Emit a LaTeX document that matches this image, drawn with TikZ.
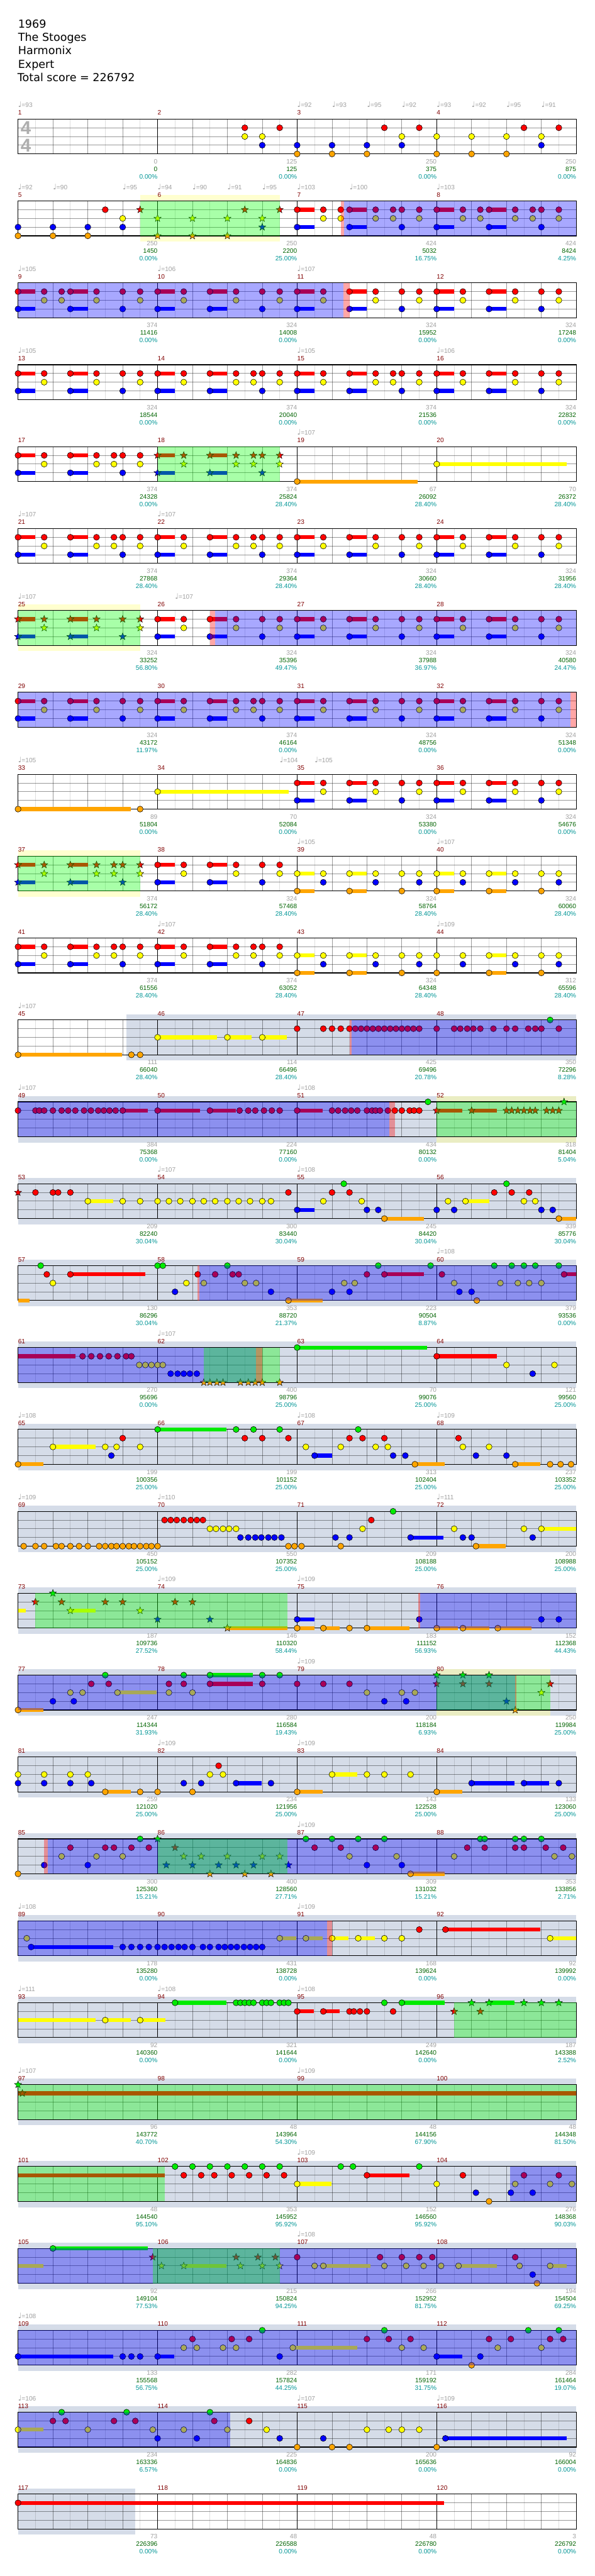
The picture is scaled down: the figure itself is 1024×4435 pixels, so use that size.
\documentclass[tikz,border=0pt]{standalone}
\usepackage{fontspec}
\setmainfont{DejaVu Sans}
\newfontfamily\lib{Liberation Sans}
\newfontfamily\libb{Liberation Sans Bold}
\newfontfamily\dvs{DejaVu Sans}
\usetikzlibrary{shapes.geometric}
\definecolor{gc}{RGB}{0,235,0}
\definecolor{rc}{RGB}{255,0,0}
\definecolor{yc}{RGB}{255,255,0}
\definecolor{bc}{RGB}{0,0,255}
\definecolor{oc}{RGB}{255,165,0}
\definecolor{greybg}{RGB}{213,220,232}
\definecolor{ylw}{RGB}{255,255,160}
\definecolor{mred}{RGB}{128,0,0}
\definecolor{sgrey}{RGB}{160,160,160}
\definecolor{sgreen}{RGB}{0,100,0}
\definecolor{scyan}{RGB}{0,150,150}
\definecolor{ovb}{RGB}{0,0,255}
\definecolor{ovg}{RGB}{0,255,0}
\definecolor{ovr}{RGB}{255,0,0}
\def\lyg{0}\def\lyr{15}\def\lyy{30}\def\lyb{45}\def\lyo{60}
\newcommand\ly[1]{\csname ly#1\endcsname}
\tikzset{
  rowat/.style={shift={(31,205+141*#1)},x=15.016pt},
  starn/.style={star,star points=5,star point ratio=2.4,minimum size=13pt,inner sep=0pt,draw=black,line width=0.5pt},
  mnum/.style={font=\lib\fontsize{11}{13}\selectfont,text=mred,anchor=base west,inner sep=0pt},
  sg/.style={font=\lib\fontsize{11}{13}\selectfont,text=sgrey,anchor=base east,inner sep=0pt},
  sgr/.style={font=\lib\fontsize{11}{13}\selectfont,text=sgreen,anchor=base east,inner sep=0pt},
  scy/.style={font=\lib\fontsize{11}{13}\selectfont,text=scyan,anchor=base east,inner sep=0pt},
  tempo/.style={font=\lib\fontsize{11}{13}\selectfont,text=sgrey,anchor=base west,inner sep=0pt},
  ttl/.style={font=\dvs\fontsize{19}{22}\selectfont,anchor=base west,inner sep=0pt},
  tsig/.style={font=\libb\fontsize{32}{32}\selectfont,text=sgrey!85,inner sep=0pt}
}
\newcommand\N[2]{\foreach \q in {#2}{\filldraw[fill=#1c,draw=black,line width=0.6pt] (\q,\ly{#1}) circle (5.2pt);}}
\newcommand\St[2]{\foreach \q in {#2}{\node[starn,fill=#1c] at (\q,\ly{#1}) {};}}
\newcommand\Su[3]{\fill[#1c] (#2,\ly{#1}-3.4) rectangle (#3,\ly{#1}+3.4);}
\newcommand\riff[5]{\Su{#2}{#1}{#1+2}\Su{#4}{#1}{#1+2}\Su{#2}{#1+6}{#1+8}\Su{#4}{#1+6}{#1+8}%
  \N{#4}{#1,#1+6,#1+12}\N{#2}{#1,#1+6,#1+12}\foreach \p in {#5}{\N{#2}{#1+\p}\N{#3}{#1+\p}}}
\newcommand\sriff[5]{\Su{#2}{#1}{#1+2}\Su{#4}{#1}{#1+2}\Su{#2}{#1+6}{#1+8}\Su{#4}{#1+6}{#1+8}%
  \St{#4}{#1,#1+6,#1+12}\St{#2}{#1,#1+6,#1+12}\foreach \p in {#5}{\St{#2}{#1+\p}\St{#3}{#1+\p}}}
\newcommand\wf{\fill[white] (0,0) rectangle (64,60);}
\newcommand\GR[2]{\fill[greybg] (#1,-10) rectangle (#2,70);}
\newcommand\YS[2]{\fill[ylw,opacity=0.5] (#1,-10) rectangle (#2,0);\fill[ylw,opacity=0.5] (#1,60) rectangle (#2,70);}
\newcommand\OB[2]{\fill[ovb,opacity=0.34] (#1,0) rectangle (#2,60);}
\newcommand\OG[2]{\fill[ovg,opacity=0.34] (#1,0) rectangle (#2,60);}
\newcommand\PK[2]{\fill[ovr,opacity=0.35] (#1,0) rectangle (#2,60);}
\newcommand\grid{%
  \foreach \i in {2,6,...,62}{\draw[black,opacity=0.13,line width=0.8pt] (\i,0) -- (\i,60);}
  \foreach \i in {4,8,12,20,24,28,36,40,44,52,56,60}{\draw[black,opacity=0.4,line width=0.8pt] (\i,0) -- (\i,60);}
  \foreach \i in {16,32,48}{\draw[black,line width=0.8pt] (\i,0) -- (\i,60);}
  \foreach \j in {15,30,45}{\draw[black,opacity=0.4,line width=1pt] (0,\j) -- (64,\j);}
  \draw[black,line width=1.2pt] (0,0) rectangle (64,60);}
\newcommand\mn[1]{\foreach \k in {0,1,2,3}{\node[mnum] at (16*\k,-7) {\the\numexpr#1+\k\relax};}}
\newcommand\scr[4]{\node[sg] at (16*#1+16,77) {#2};\node[sgr] at (16*#1+16,90) {#3};\node[scy] at (16*#1+16,103) {#4\%};}
\newcommand\tp[2]{\node[tempo] at (#1,-20) {{\dvs\fontsize{13}{13}\selectfont ♩}=#2};}
\begin{document}
\begin{tikzpicture}[x=1pt,y=-1pt]
\useasboundingbox (0,0) rectangle (1024,4435);
\fill[white] (0,0) rectangle (1024,4435);
\node[ttl] (t1) at (31,48) {1969};
\node[ttl] (t2) at (31,71) {The Stooges};
\node[ttl] (t3) at (31,94) {Harmonix};
\node[ttl] (t4) at (31,117) {Expert};
\node[ttl] (t5) at (30,140) {Total score = 226792};
% row 0
\begin{scope}[rowat=0]\wf\grid
\node[tsig] at (0.9,15.5) {4};\node[tsig] at (0.9,46) {4};
\N{r}{26,30,42,46,58,62}\N{y}{26,28,44,48,52,56,60}\N{b}{28,32,36,40,44,60}\N{o}{32,36,40,48,52,56}
\mn{1}\tp{0}{93}\tp{32}{92}\tp{36}{93}\tp{40}{95}\tp{44}{92}\tp{48}{93}\tp{52}{92}\tp{56}{95}\tp{60}{91}
\scr{0}{0}{0}{0.00}\scr{1}{125}{125}{0.00}\scr{2}{250}{375}{0.00}\scr{3}{250}{875}{0.00}
\end{scope}
% row 1
\begin{scope}[rowat=1]\wf\YS{14}{30}\grid
\N{b}{0,4,8,12}\N{o}{0,4,8}\N{r}{10}\N{y}{12}
\St{r}{14,26,30}\St{y}{16,20,24,28}\St{o}{16,20,24}\St{b}{28}
\riff{32}{r}{y}{b}{3,5,9,11,14}\riff{48}{r}{y}{b}{3,5,9,11,14}
\OG{14}{30}\PK{37}{37.35}\OB{37.35}{64}
\mn{5}\tp{0}{92}\tp{4}{90}\tp{12}{95}\tp{16}{94}\tp{20}{90}\tp{24}{91}\tp{28}{95}\tp{32}{103}\tp{38}{100}\tp{48}{103}
\scr{0}{250}{1450}{0.00}\scr{1}{250}{2200}{25.00}\scr{2}{424}{5032}{16.75}\scr{3}{424}{8424}{4.25}
\end{scope}
% row 2
\begin{scope}[rowat=2]\wf\grid
\riff{0}{r}{y}{b}{3,5,9,14}\riff{16}{r}{y}{b}{3,9,14}\riff{32}{r}{y}{b}{3,9,14}\riff{48}{r}{y}{b}{3,9,14}
\OB{0}{37.3}\PK{37.3}{38}
\mn{9}\tp{0}{105}\tp{16}{106}\tp{32}{107}
\scr{0}{374}{11416}{0.00}\scr{1}{324}{14008}{0.00}\scr{2}{324}{15952}{0.00}\scr{3}{324}{17248}{0.00}
\end{scope}
% row 3
\begin{scope}[rowat=3]\wf\grid
\riff{0}{r}{y}{b}{3,9,14}\riff{16}{r}{y}{b}{3,9,11,14}\riff{32}{r}{y}{b}{3,9,11,14}\riff{48}{r}{y}{b}{3,9,14}
\mn{13}\tp{0}{105}\tp{32}{105}\tp{48}{106}
\scr{0}{324}{18544}{0.00}\scr{1}{374}{20040}{0.00}\scr{2}{374}{21536}{0.00}\scr{3}{324}{22832}{0.00}
\end{scope}
% row 4
\begin{scope}[rowat=4]\wf\grid
\riff{0}{r}{y}{b}{3,9,11,14}\sriff{16}{r}{y}{b}{3,9,11,14}
\Su{o}{32}{45.8}\N{o}{32}\Su{y}{48}{62.9}\N{y}{48}
\OG{16}{30}
\mn{17}\tp{32}{107}
\scr{0}{374}{24328}{0.00}\scr{1}{374}{25824}{28.40}\scr{2}{67}{26092}{28.40}\scr{3}{70}{26372}{28.40}
\end{scope}
% row 5
\begin{scope}[rowat=5]\wf\grid
\riff{0}{r}{y}{b}{3,9,11,14}\riff{16}{r}{y}{b}{3,9,11,14}\riff{32}{r}{y}{b}{3,9,14}\riff{48}{r}{y}{b}{3,9,14}
\mn{21}\tp{0}{107}\tp{16}{107}
\scr{0}{374}{27868}{28.40}\scr{1}{374}{29364}{28.40}\scr{2}{324}{30660}{28.40}\scr{3}{324}{31956}{28.40}
\end{scope}
% row 6
\begin{scope}[rowat=6]\wf\YS{0}{14}\grid
\sriff{0}{r}{y}{b}{3,9,14}\riff{16}{r}{y}{b}{3,9,14}\riff{32}{r}{y}{b}{3,9,14}\riff{48}{r}{y}{b}{3,9,14}
\OG{0}{14}\PK{22}{22.6}\OB{22.6}{64}
\mn{25}\tp{0}{107}\tp{18}{107}
\scr{0}{324}{33252}{56.80}\scr{1}{324}{35396}{49.47}\scr{2}{324}{37988}{36.97}\scr{3}{324}{40580}{24.47}
\end{scope}
% row 7
\begin{scope}[rowat=7]\wf\grid
\riff{0}{r}{y}{b}{3,9,14}\riff{16}{r}{y}{b}{3,9,11,14}\riff{32}{r}{y}{b}{3,9,14}\riff{48}{r}{y}{b}{3,9,14}
\OB{0}{63.3}\PK{63.3}{64}
\mn{29}
\scr{0}{324}{43172}{11.97}\scr{1}{374}{46164}{0.00}\scr{2}{324}{48756}{0.00}\scr{3}{324}{51348}{0.00}
\end{scope}
% row 8
\begin{scope}[rowat=8]\wf\grid
\Su{o}{0}{12.9}\N{o}{0,14}\Su{y}{16}{31}\N{y}{16}
\riff{32}{r}{y}{b}{3,9,14}\riff{48}{r}{y}{b}{3,9,14}
\mn{33}\tp{0}{105}\tp{30}{104}\tp{34}{105}
\scr{0}{89}{51804}{0.00}\scr{1}{70}{52084}{0.00}\scr{2}{324}{53380}{0.00}\scr{3}{324}{54676}{0.00}
\end{scope}
% row 9
\begin{scope}[rowat=9]\wf\YS{0}{14}\grid
\sriff{0}{r}{y}{b}{3,9,11,14}\riff{16}{r}{y}{b}{3,9,14}\riff{32}{y}{b}{o}{3,9,14}\riff{48}{y}{b}{o}{3,9,14}
\OG{0}{14}
\mn{37}\tp{32}{105}\tp{48}{107}
\scr{0}{374}{56172}{28.40}\scr{1}{324}{57468}{28.40}\scr{2}{324}{58764}{28.40}\scr{3}{324}{60060}{28.40}
\end{scope}
% row 10
\begin{scope}[rowat=10]\wf\grid
\riff{0}{r}{y}{b}{3,9,11,14}\riff{16}{r}{y}{b}{3,9,11,14}\riff{32}{y}{b}{o}{3,9,14}
\Su{y}{54}{56}\Su{o}{54}{56}\N{o}{48,54,60}\N{y}{48,51,54,57,60,62}\N{b}{51,57,62}
\mn{41}\tp{16}{107}\tp{48}{109}
\scr{0}{374}{61556}{28.40}\scr{1}{374}{63052}{28.40}\scr{2}{324}{64348}{28.40}\scr{3}{312}{65596}{28.40}
\end{scope}
% row 11
\begin{scope}[rowat=11]\wf\GR{12.4}{64}\grid
\Su{o}{0}{11.9}\N{o}{0,13,14}
\Su{y}{16}{22.8}\Su{y}{24}{26.8}\Su{y}{28}{30.8}\N{y}{16,24,28}
\N{r}{32,35,36,37,38,38.67,39.33,40,40.67,41.33,42,42.67,43.33,44,44.67,45.33,46,48,50,50.7,51.5,52.2,53,54.5,56,57,58.5,59.3,60,62}
\N{g}{61}
\PK{38}{38.25}\OB{38.25}{64}
\mn{45}\tp{0}{107}
\scr{0}{111}{66040}{28.40}\scr{1}{114}{66496}{28.40}\scr{2}{425}{69496}{20.78}\scr{3}{350}{72296}{8.28}
\end{scope}
% row 12
\begin{scope}[rowat=12]\wf\GR{0}{64}\YS{48}{64}\grid
\Su{r}{12}{14.9}\Su{r}{16}{20.9}\Su{r}{22}{25}\Su{r}{32}{34.9}
\N{r}{0,2,2.44,3,4,5,5.75,6.57,7.57,8.36,9.19,9.84,10.49,11.19,12,16,22,25.4,26.4,27.2,28.2,29.1,30,32,36,36.7,37.5,38.2,38.9,40,40.6,41,41.5,42.4,43.2,44,44.9,45.4,46}
\N{g}{47}
\Su{r}{48}{50.9}\Su{r}{52}{54.9}
\St{r}{48,52,56,56.6,57.3,58,58.7,59.3,60.6,61.3,62}\St{g}{62.6}
\OB{0}{42.6}\PK{42.6}{43.2}\OG{48}{64}
\mn{49}\tp{0}{107}\tp{32}{108}
\scr{0}{384}{75368}{0.00}\scr{1}{224}{77160}{0.00}\scr{2}{434}{80132}{0.00}\scr{3}{318}{81404}{5.04}
\end{scope}
% row 13
\begin{scope}[rowat=13]\wf\GR{0}{64}\grid
\St{r}{0}
\Su{y}{8}{10.9}\Su{b}{32}{34}\Su{o}{42}{46.5}\Su{y}{51.3}{54}\Su{o}{62}{64}
\N{r}{2,4,4.6,6,31,36,38,54.6,56.6,58.6}
\N{y}{8,12,14,16,17.3,18.6,20,21.3,22.6,24,25.3,26.6,28,29,35,39.4,49.3,51.3,58,59.3}
\N{b}{32,40,41.3,48,50,60,61.3}\N{o}{42,62}\N{g}{37.35,56}
\mn{53}\tp{16}{107}\tp{32}{108}
\scr{0}{209}{82240}{30.04}\scr{1}{300}{83440}{30.04}\scr{2}{245}{84420}{30.04}\scr{3}{339}{85776}{30.04}
\end{scope}
% row 14
\begin{scope}[rowat=14]\wf\GR{0}{64}\grid
\Su{o}{0}{1.3}\Su{r}{6}{14.6}\Su{o}{31}{34.9}\Su{r}{42}{46.5}\Su{r}{62.6}{64}
\N{g}{2.6,16,16.6,24,41.3,47.3,54.6,56.6,58,59.3,62}
\N{r}{3.3,6,20.6,22.6,24.6,25.3,40,42,48.6,62.6}
\N{y}{4,19.3,21.3,26,27.3,37.4,38.6,50,55.3,57.3,58.6,60}
\N{b}{18,29,36,38,50.6,52}\N{o}{31,52.6}
\PK{20.6}{20.8}\OB{20.8}{64}
\mn{57}\tp{48}{108}
\scr{0}{130}{86296}{30.04}\scr{1}{353}{88720}{21.37}\scr{2}{223}{90504}{8.87}\scr{3}{379}{93536}{0.00}
\end{scope}
% row 15
\begin{scope}[rowat=15]\wf\GR{0}{64}\grid
\Su{r}{0}{6.6}\Su{g}{32}{46.9}\Su{r}{48}{54.9}
\N{r}{7.4,8.4,9.4,10.4,11.4,12.4,13}\N{y}{13.9,14.6,15.3,16,16.6}\N{b}{17.5,18.3,19,19.7,20.5}
\St{o}{21.3,22,22.8,23.5,25.5,26.4,27.2,28,30}
\N{g}{32}\N{r}{48}\N{y}{56,61.5}\N{b}{59}
\OB{0}{27.3}\OG{21.3}{30}\PK{27.3}{28}
\mn{61}\tp{16}{107}
\scr{0}{270}{95696}{0.00}\scr{1}{400}{98796}{25.00}\scr{2}{70}{99076}{25.00}\scr{3}{121}{99560}{25.00}
\end{scope}
% row 16
\begin{scope}[rowat=16]\wf\GR{0}{64}\grid
\Su{o}{0}{2.9}\Su{y}{4}{8.9}\Su{g}{16}{23.9}\Su{b}{34}{36}\Su{o}{45.5}{48.9}\Su{o}{57}{59.9}
\N{o}{0,45.5,57,61,62.2,63.4}\N{y}{4,10,11.3,14,33,37,41,42.4,51,54}\N{b}{10.7,34,43,44.4,52.5,56}
\N{r}{12,26,28,31,38,39.5,42,50.5}\N{g}{16,25,27,30,39}
\mn{65}\tp{0}{108}\tp{32}{108}\tp{48}{109}
\scr{0}{199}{100356}{25.00}\scr{1}{199}{101152}{25.00}\scr{2}{313}{102404}{25.00}\scr{3}{237}{103352}{25.00}
\end{scope}
% row 17
\begin{scope}[rowat=17]\wf\GR{0}{64}\grid
\Su{b}{45}{48.8}\Su{o}{52.5}{55.9}\Su{y}{60}{64}
\N{o}{0.65,2,3,4.35,5,6,7,8,9.3,10,10.7,11.3,12,12.7,13.3,14,14.7,15.3,16,31,31.7,32.5,37,52.5}
\N{r}{16.8,17.5,18.2,19,19.8,20.5,21.2,40.5}
\N{y}{22,22.7,23.5,24.2,25,39.5,50,58,60}
\N{b}{25.5,26.4,27.2,27.9,28.7,29.4,30.2,36.4,38,45,51,52,59}
\N{g}{43}
\mn{69}\tp{0}{109}\tp{16}{110}\tp{48}{111}
\scr{0}{450}{105152}{25.00}\scr{1}{550}{107352}{25.00}\scr{2}{209}{108188}{25.00}\scr{3}{200}{108988}{25.00}
\end{scope}
% row 18
\begin{scope}[rowat=18]\wf\GR{0}{64}\grid
\Su{y}{0}{0.9}\Su{y}{6}{8.9}\Su{o}{24}{30.9}
\St{r}{2,5,10,12,18,20}\St{g}{4}\St{y}{6,14}\St{b}{16,22}\St{o}{24}
\Su{b}{32}{34}\Su{o}{32}{34}\Su{o}{35}{36.9}\Su{o}{40}{44.9}\Su{o}{48}{50.4}\Su{o}{51}{54}\Su{o}{55}{58.9}
\N{b}{32,46,60,62}\N{o}{32,35,38,40,48,51,55}
\OG{2}{30.9}\PK{45.9}{46.1}\OB{46.1}{64}
\mn{73}\tp{16}{109}\tp{32}{109}
\scr{0}{187}{109736}{27.52}\scr{1}{146}{110320}{58.44}\scr{2}{183}{111152}{56.93}\scr{3}{152}{112368}{44.43}
\end{scope}
% row 19
\begin{scope}[rowat=19]\wf\GR{0}{64}\YS{48}{61}\grid
\Su{o}{0}{2.9}\Su{y}{11.4}{15.9}\Su{g}{22}{26.9}\Su{r}{22}{26.9}
\N{o}{0}\N{b}{4,6.4,42,44.5}\N{y}{6,7.4,11.4,17.3,20,40,44,45.5}\N{r}{8.4,10.4,17.3,19,22,28,32,35,38}\N{g}{10,19,22,28,30}
\St{g}{48,51,54}\St{r}{48,51,54,61}\St{b}{56}\St{o}{57}\St{y}{60}
\OB{0}{57}\OG{48}{61}\PK{57}{57.15}
\mn{77}\tp{32}{109}
\scr{0}{247}{114344}{31.93}\scr{1}{280}{116584}{19.43}\scr{2}{200}{118184}{6.93}\scr{3}{250}{119984}{25.00}
\end{scope}
% row 20
\begin{scope}[rowat=20]\wf\GR{0}{64}\grid
\Su{o}{10}{12.9}\Su{b}{25}{27.9}\Su{o}{32}{34.9}\Su{y}{36}{38.9}\Su{o}{48}{50.9}\Su{b}{52}{56.9}\Su{b}{58}{60.9}
\N{y}{0,3,6,8,22,23.5,36,40,42,45}\N{b}{0,3,6,8.4,19,21,25,29,52,58,62}\N{o}{10,14,16,20,32,48}\N{r}{23}
\mn{81}\tp{16}{109}\tp{32}{109}
\scr{0}{259}{121020}{25.00}\scr{1}{234}{121956}{25.00}\scr{2}{143}{122528}{25.00}\scr{3}{133}{123060}{25.00}
\end{scope}
% row 21
\begin{scope}[rowat=21]\wf\GR{0}{64}\grid
\Su{o}{45}{48.9}
\N{o}{0,45}\N{b}{3,8,40,44}\N{y}{5,9,12,38,43.4,50,61.5,63.5}\N{r}{6,10,11,13,15,34,37,41,51.5,53.5,57,58,60.5,62.5}
\N{g}{14,33,36,39,42,53,53.5,57,58,60}
\St{g}{16}\St{r}{18}\St{y}{19,21,24,28,30}\St{b}{17,20,23,25,27,31}\St{o}{22,26,29}
\PK{3}{3.4}\OB{3.4}{64}\OG{16}{30.9}
\mn{85}\tp{32}{109}
\scr{0}{300}{125360}{15.21}\scr{1}{400}{128560}{27.71}\scr{2}{309}{131032}{15.21}\scr{3}{353}{133856}{2.71}
\end{scope}
% row 22
\begin{scope}[rowat=22]\wf\GR{0}{64}\grid
\Su{b}{1.5}{10.9}\Su{y}{30}{31.9}\Su{y}{33}{34.9}\Su{y}{36}{37.9}\Su{y}{39}{40.9}\Su{r}{49}{59.9}\Su{y}{61}{64}
\N{y}{1,30,33,36,39,42,44,61}
\N{b}{1.5,12,13,14,15,16,16.8,17.6,18.4,19.1,20,21.2,22,23,23.7,24.4,25.1,25.9,26.6,27.3,28}
\N{r}{46,49}
\OB{0}{35.4}\PK{35.4}{36}
\mn{89}\tp{0}{108}\tp{32}{109}
\scr{0}{178}{135280}{0.00}\scr{1}{431}{138728}{0.00}\scr{2}{168}{139624}{0.00}\scr{3}{92}{139992}{0.00}
\end{scope}
% row 23
\begin{scope}[rowat=23]\wf\GR{0}{64}\grid
\Su{y}{0}{8.9}\Su{y}{10}{12.9}\Su{y}{14}{16.9}\Su{g}{18}{23.9}\Su{r}{32}{33.9}\Su{r}{35}{36.9}\Su{g}{44}{48.9}\Su{g}{54}{56.9}
\N{y}{10,14}\N{g}{18,25,25.5,26,26.5,27,28,28.5,29,30,30.5,31,42,44}\N{r}{32,35,38,38.5,39.2,40,43}
\St{r}{50,53}\St{g}{52,54,58,60,62}
\OG{50}{64}
\mn{93}\tp{0}{111}\tp{16}{108}\tp{32}{108}
\scr{0}{92}{140360}{0.00}\scr{1}{321}{141644}{0.00}\scr{2}{249}{142640}{0.00}\scr{3}{187}{143388}{2.52}
\end{scope}
% row 24
\begin{scope}[rowat=24]\wf\GR{0}{64}\grid
\Su{r}{0}{64}\St{g}{0}\St{r}{0.5}
\OG{0}{64}
\mn{97}\tp{0}{107}\tp{32}{109}
\scr{0}{96}{143772}{40.70}\scr{1}{48}{143964}{54.30}\scr{2}{48}{144156}{67.90}\scr{3}{48}{144348}{81.50}
\end{scope}
% row 25
\begin{scope}[rowat=25]\wf\GR{0}{64}\grid
\Su{r}{0}{16.85}\Su{y}{32}{35.9}\Su{r}{40}{44.9}
\N{g}{18,20,22,24,26,28,30,37,38.4,46}\N{r}{19,21,22.5,24.5,26.5,28.5,30.5,40,51,58,62}
\N{y}{32,48,57,61,63.5}\N{b}{52.5,56.5,59}\N{o}{54}
\OG{0}{16.85}\OB{56.4}{64}
\mn{101}\tp{32}{109}
\scr{0}{48}{144540}{95.10}\scr{1}{353}{145952}{95.92}\scr{2}{152}{146560}{95.92}\scr{3}{276}{148368}{90.03}
\end{scope}
% row 26
\begin{scope}[rowat=26]\wf\GR{0}{64}\grid
\Su{y}{0}{2.9}\Su{g}{4}{14.85}\Su{y}{19}{23.9}\Su{y}{35}{40.4}\Su{y}{50.5}{54.9}\Su{y}{61}{62.9}
\N{g}{4}
\St{r}{15.45,25,27.5,29.5}\St{y}{16.45,19,25.5,28,30}
\N{r}{32,41.5,44,46,47.5,57}\N{y}{34,35,42,44.5,46.5,48.5,50.5,57.5,61}\N{b}{59}\N{o}{59.5}
\OB{0}{64}\OG{15.45}{30}
\mn{105}\tp{32}{108}
\scr{0}{92}{149104}{77.53}\scr{1}{215}{150824}{94.25}\scr{2}{266}{152952}{81.75}\scr{3}{194}{154504}{69.25}
\end{scope}
% row 27
\begin{scope}[rowat=27]\wf\GR{0}{64}\grid
\Su{b}{0}{10.9}\Su{b}{16}{17.9}\Su{y}{31.5}{38.9}\Su{b}{48}{50.9}
\N{b}{0,12,13,14,16,30,48,53}\N{y}{19,20.5,23.5,25,31.5,44,46.5,55,60}\N{r}{20,24.5,26.5,40,42.5,45,54,56.5,61,62.5}
\N{g}{28,42,58.5,62}\N{o}{52}
\OB{0}{64}
\mn{109}\tp{0}{108}
\scr{0}{133}{155568}{56.75}\scr{1}{282}{157824}{44.25}\scr{2}{171}{159192}{31.75}\scr{3}{284}{161464}{19.07}
\end{scope}
% row 28
\begin{scope}[rowat=28]\wf\GR{0}{64}\grid
\Su{y}{0}{2.9}\Su{b}{49}{62.9}
\N{y}{0,8,15.45,19,24,28.5,40,42.5,44,46}\N{g}{5,12.45,22}\N{r}{4,5.45,11,13.45,22.5,26.5}
\N{b}{16,20.5,30,35,49}\N{o}{32,36,38,48}
\OB{0}{24.35}
\mn{113}\tp{0}{106}\tp{32}{107}\tp{48}{109}
\scr{0}{234}{163336}{6.57}\scr{1}{225}{164836}{0.00}\scr{2}{200}{165636}{0.00}\scr{3}{92}{166004}{0.00}
\end{scope}
% row 29
\begin{scope}[rowat=29]\wf\GR{0}{13.45}\grid
\Su{r}{0}{48.85}\N{r}{0}
\mn{117}
\scr{0}{73}{226396}{0.00}\scr{1}{48}{226588}{0.00}\scr{2}{48}{226780}{0.00}\scr{3}{3}{226792}{0.00}
\end{scope}
\end{tikzpicture}
\end{document}
